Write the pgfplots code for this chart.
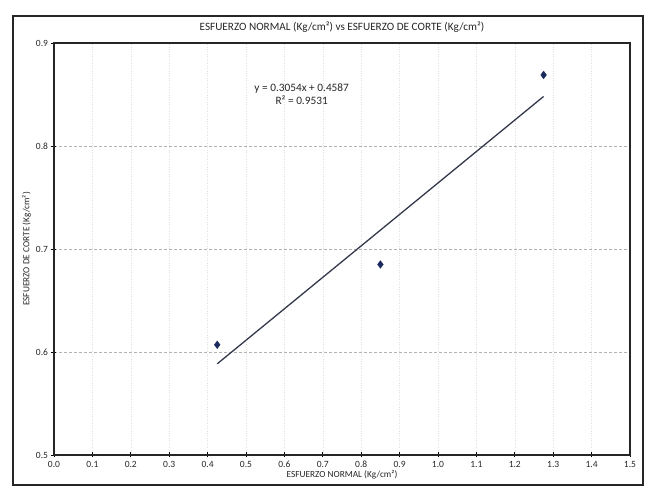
\documentclass[border=0pt]{standalone}
\usepackage{fontspec}
\setmainfont{Carlito}
\usepackage{pgfplots}
\pgfplotsset{compat=1.18}
\definecolor{navy}{HTML}{1B2A5E}
\definecolor{linec}{HTML}{33384A}
\begin{document}
\begin{tikzpicture}[x=1pt,y=1pt]
\useasboundingbox (-54,-37) rectangle (592,455);
\draw[line width=1.2pt,black!85] (-41,-30) rectangle (589,439);
\begin{axis}[
  at={(0,0)}, anchor=south west,
  scale only axis, width=576pt, height=412pt,
  xmin=0, xmax=1.5, ymin=0.5, ymax=0.9,
  xtick={0,0.1,...,1.5}, ytick={0.5,0.6,0.7,0.8,0.9},
  tick align=center, major tick length=5pt,
  tick style={black, line width=0.8pt},
  axis line style={line width=1.2pt, black!85},
  xticklabel style={/pgf/number format/.cd, fixed, fixed zerofill, precision=1},
  yticklabel style={/pgf/number format/.cd, fixed, fixed zerofill, precision=1},
  /pgf/number format/assume math mode=true,
  ticklabel style={font=\fontsize{9.5}{11}\selectfont, black!85},
  ymajorgrids, xmajorgrids,
  y grid style={densely dashed, black!30, line width=0.5pt},
  x grid style={dotted, black!12, line width=0.5pt},
  xtick pos=bottom, ytick pos=left,
  xlabel={ESFUERZO NORMAL (Kg/cm²)},
  ylabel={ESFUERZO DE CORTE (Kg/cm²)},
  label style={font=\fontsize{9.3}{11}\selectfont, black!85},
  xlabel style={yshift=4pt},
  ylabel style={yshift=-2pt},
  title={ESFUERZO NORMAL (Kg/cm²) vs ESFUERZO DE CORTE (Kg/cm²)},
  title style={font=\fontsize{11.2}{13}\selectfont, black!85, yshift=1pt},
  clip=false,
]
\addplot[linec, line width=1.3pt] coordinates {(0.425,0.5885) (1.275,0.8481)};
\addplot[only marks, mark=diamond*, mark size=3.8pt, navy] coordinates {
  (0.425,0.607) (0.85,0.685) (1.275,0.869)};
\node[font=\fontsize{11.3}{13}\selectfont, black!85, align=center, anchor=north] at (axis cs:0.645,0.864) {y = 0.3054x + 0.4587\\R² = 0.9531};
\end{axis}
\end{tikzpicture}
\end{document}
